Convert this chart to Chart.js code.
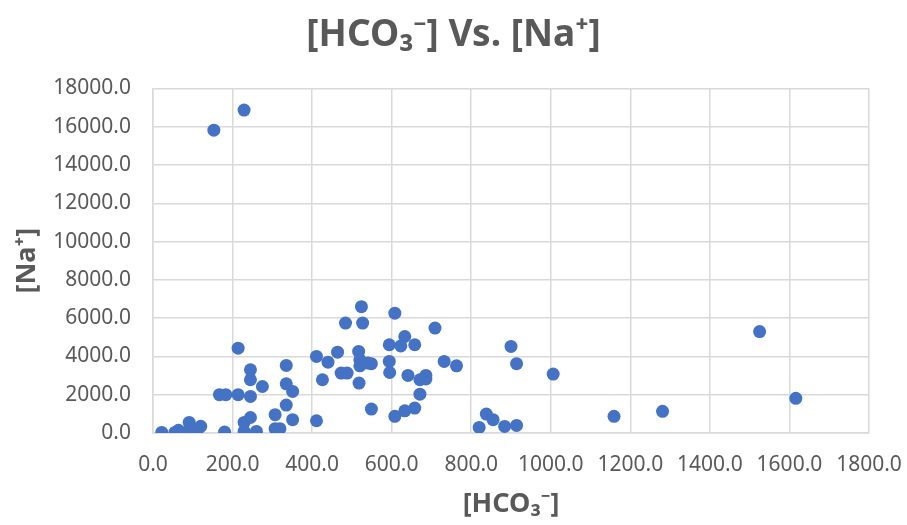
<!DOCTYPE html>
<html>
<head>
<meta charset="utf-8">
<script src="https://cdn.jsdelivr.net/npm/chart.js@4.4.0/dist/chart.umd.min.js"></script>
<style>
    html, body { margin: 0; padding: 0; background: #ffffff; }
    #grafico { width: 907px; height: 525px; }
</style>
</head>
<body>
<div id="grafico"><canvas id="graficoDispersao"></canvas></div>
<script>
var tituloGrafico = "[HCO₃⁻] Vs. [Na⁺]";
var tituloEixoX = "[HCO₃⁻]";
var tituloEixoY = "[Na⁺]";

// [HCO3-] (x) and [Na+] (y)
var valoresHco3 = [22, 55, 64, 85, 91, 93, 110, 120, 180, 167,
    183, 214, 214, 229, 229, 245, 245, 245, 245, 260,
    275, 307, 307, 319, 335, 335, 335, 351, 351, 411,
    411, 426, 440, 464, 473, 488, 484, 518, 517, 520,
    520, 524, 527, 549, 549, 540, 594, 594, 595, 608,
    608, 633, 623, 658, 641, 671, 686, 686, 671, 732,
    763, 633, 658, 709, 900, 914, 1006, 838, 855, 820,
    884, 914, 1159, 1281, 1525, 1616, 229, 153];
var valoresNa = [30, 30, 140, 30, 550, 260, 30, 350, 50, 2000,
    2000, 4430, 2000, 80, 550, 810, 3300, 2780, 1910, 80,
    2430, 955, 225, 225, 3530, 2570, 1460, 2170, 694, 640,
    4000, 2780, 3700, 4220, 3130, 3130, 5740, 2610, 4260, 3820,
    3510, 6600, 5740, 1250, 3620, 3650, 4610, 3740, 3160, 6260,
    870, 5040, 4550, 4610, 3010, 2780, 3010, 2820, 2030, 3740,
    3510, 1160, 1300, 5480, 4520, 3620, 3080, 990, 694, 293,
    345, 397, 870, 1130, 5300, 1810, 16870, 15820];

var eixoXMin = 0, eixoXMax = 1800, eixoXPasso = 200;
var eixoYMin = 0, eixoYMax = 18000, eixoYPasso = 2000;

var corTexto = '#595959';
var corGrade = '#d9d9d9';
var fonte = "'Noto Sans', 'DejaVu Sans', sans-serif";

var graficoDispersao = function () {

    const montarPontos = function () {
        return valoresHco3.map((x, i) => ({ x: x, y: valoresNa[i] }));
    }

    const desenhar = function () {
        const ctx = document.getElementById('graficoDispersao').getContext('2d');
        return new Chart(ctx, {
            type: 'scatter',
            data: {
                datasets: [{
                    label: tituloEixoY,
                    data: montarPontos(),
                    backgroundColor: '#4472C4',
                    borderColor: '#4472C4',
                    borderWidth: 0,
                    pointRadius: 6.5,
                    pointHoverRadius: 6.5
                }]
            },
            options: {
                responsive: true,
                maintainAspectRatio: false,
                animation: false,
                layout: { padding: 0 },
                plugins: {
                    legend: { display: false },
                    tooltip: { enabled: false },
                    title: {
                        display: true,
                        text: tituloGrafico,
                        color: corTexto,
                        font: { family: fonte, size: 37, weight: 'bold', lineHeight: 1.2 },
                        padding: { top: 13, bottom: 31 }
                    }
                },
                scales: {
                    x: {
                        type: 'linear',
                        min: eixoXMin,
                        max: eixoXMax,
                        afterFit: function (scale) {
                            scale.height = 92;
                            scale.paddingRight = 38;
                        },
                        ticks: {
                            stepSize: eixoXPasso,
                            color: corTexto,
                            padding: 19,
                            font: { family: fonte, size: 21 },
                            callback: v => Number(v).toFixed(1)
                        },
                        grid: { color: corGrade, lineWidth: 1.5, drawTicks: false },
                        border: { color: corGrade, width: 1.5 },
                        title: {
                            display: true,
                            text: tituloEixoX,
                            color: corTexto,
                            font: { family: fonte, size: 27, weight: 'bold', lineHeight: 1.2 },
                            padding: { top: 0, bottom: 4 }
                        }
                    },
                    y: {
                        type: 'linear',
                        min: eixoYMin,
                        max: eixoYMax,
                        afterFit: function (scale) { scale.width = 153; },
                        ticks: {
                            stepSize: eixoYPasso,
                            color: corTexto,
                            padding: 22,
                            font: { family: fonte, size: 21 },
                            callback: v => Number(v).toFixed(1)
                        },
                        grid: { color: corGrade, lineWidth: 1.5, drawTicks: false },
                        border: { color: corGrade, width: 1.5 },
                        title: {
                            display: true,
                            text: tituloEixoY,
                            color: corTexto,
                            font: { family: fonte, size: 27, weight: 'bold', lineHeight: 1.2 },
                            padding: { top: 11, bottom: 0 }
                        }
                    }
                }
            }
        });
    }

    return {
        desenhar: desenhar,
    }
}();

graficoDispersao.desenhar();
</script>
</body>
</html>
